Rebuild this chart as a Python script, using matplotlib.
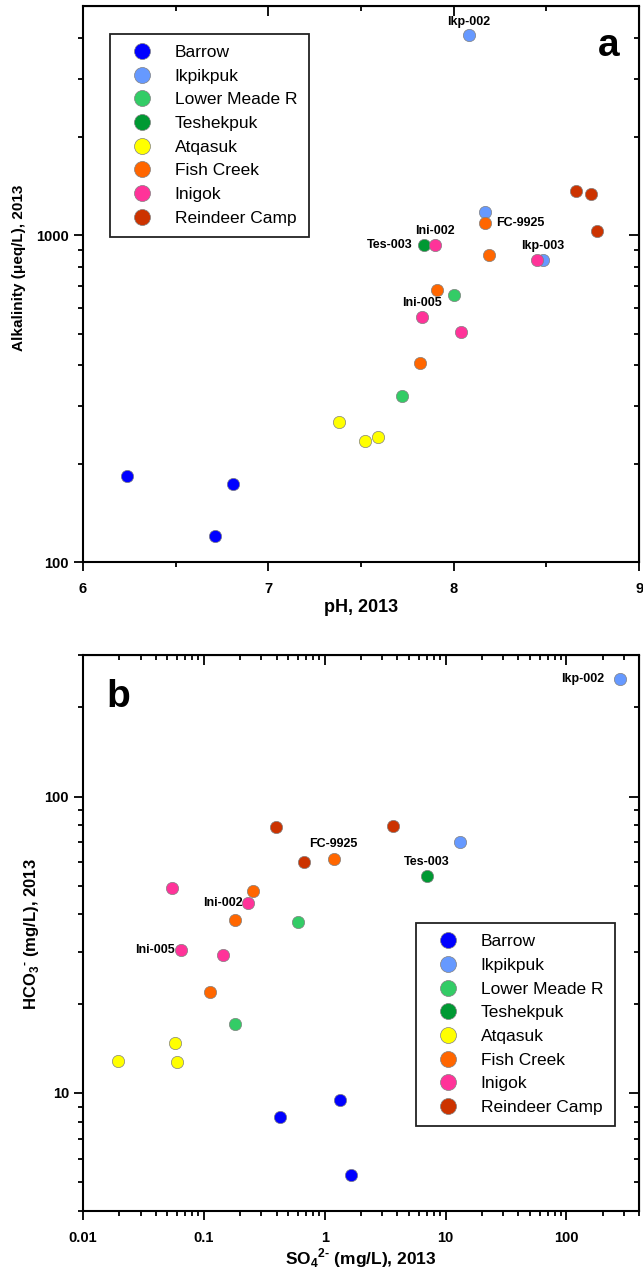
import matplotlib.pyplot as plt
from matplotlib.lines import Line2D

plt.rcParams['font.family'] = ['Liberation Sans', 'DejaVu Sans']
plt.rcParams['mathtext.fontset'] = 'custom'
plt.rcParams['mathtext.rm'] = 'Liberation Sans:bold'
plt.rcParams['mathtext.bf'] = 'Liberation Sans:bold'

# sites and colours
sites = ['Barrow', 'Ikpikpuk', 'Lower Meade R', 'Teshekpuk',
         'Atqasuk', 'Fish Creek', 'Inigok', 'Reindeer Camp']
colors = ['#0000ff', '#6699ff', '#33cc66', '#009933',
          '#ffff00', '#ff6600', '#ff3399', '#cc3300']

# panel a: pH vs alkalinity (ueq/L)
ph = [[6.24, 6.81, 6.71],
      [8.08, 8.17, 8.48],
      [7.72, 8.00],
      [7.84],
      [7.38, 7.52, 7.59],
      [8.17, 8.19, 7.91, 7.82],
      [7.90, 8.45, 7.83, 8.04],
      [8.66, 8.74, 8.77]]
alk = [[184, 174, 120],
       [4075, 1178, 839],
       [322, 658],
       [932],
       [269, 234, 241],
       [1085, 869, 680, 405],
       [932, 839, 561, 507],
       [1365, 1333, 1031]]

# panel b: SO4 vs HCO3 (mg/L)
so4 = [[1.35, 0.428, 1.64],
       [276, 13.3],
       [0.597, 0.182],
       [6.98],
       [0.0579, 0.0194, 0.0602],
       [1.19, 0.255, 0.1795, 0.113],
       [0.0545, 0.232, 0.0652, 0.144],
       [0.392, 3.68, 0.671]]
hco3 = [[9.44, 8.28, 5.28],
        [249, 70.0],
        [37.8, 17.1],
        [53.8],
        [14.7, 12.8, 12.7],
        [61.7, 48.1, 38.4, 21.9],
        [49.0, 43.8, 30.3, 29.1],
        [78.8, 79.8, 60.3]]

# sample labels: (text, x, y, side)
labels_a = [('Ikp-002', 8.08, 4075, 'top'),
            ('FC-9925', 8.17, 1085, 'right'),
            ('Ini-002', 7.90, 932, 'top'),
            ('Tes-003', 7.84, 932, 'left'),
            ('Ikp-003', 8.48, 839, 'top'),
            ('Ini-005', 7.83, 561, 'top')]
labels_b = [('Ikp-002', 276, 249, 'left'),
            ('FC-9925', 1.19, 61.7, 'top'),
            ('Tes-003', 6.98, 53.8, 'top'),
            ('Ini-002', 0.232, 43.8, 'left'),
            ('Ini-005', 0.0652, 30.3, 'left')]
# gap in points between marker centre and label
gaps_a = [5, 8, 6, 8, 6, 6]
gaps_b = [11, 6, 6, 4, 4.5]

fig = plt.figure(figsize=(6.43, 12.72), dpi=100)
ax_a = fig.add_axes([0.129, 0.558, 0.865, 0.437])
ax_b = fig.add_axes([0.129, 0.048, 0.865, 0.437])

tick_font = dict(fontsize=10.5, fontweight='bold')
lab_font = dict(fontsize=9, fontweight='bold')
axis_font = dict(fontsize=13, fontweight='bold')
no_labels = dict(labelbottom=False, labeltop=False,
                 labelleft=False, labelright=False)


def style(ax):
    for s in ax.spines.values():
        s.set_linewidth(1.5)
    ax.tick_params(which='both', direction='out', width=1.3,
                   top=False, right=False)
    ax.tick_params(which='major', length=6.5)
    ax.tick_params(which='minor', length=3.6)
    ax.tick_params(axis='x', which='major', pad=8)
    ax.tick_params(axis='y', which='major', pad=3.5)
    ax2 = ax.secondary_xaxis('top')
    ay2 = ax.secondary_yaxis('right')
    for sec in (ax2, ay2):
        sec.tick_params(which='both', direction='in', width=1.3, **no_labels)
        sec.tick_params(which='major', length=7)
        sec.tick_params(which='minor', length=3.6)
    return ax2, ay2


def add_labels(ax, labels, gaps):
    for (txt, x, y, side), g in zip(labels, gaps):
        if side == 'top':
            off, ha, va = (0, g), 'center', 'bottom'
        elif side == 'left':
            off, ha, va = (-g, 0), 'right', 'center'
        else:
            off, ha, va = (g, 0), 'left', 'center'
        ax.annotate(txt, (x, y), xytext=off, textcoords='offset points',
                    ha=ha, va=va, **lab_font)


# ---- panel a
for i in range(len(sites)):
    ax_a.scatter(ph[i], alk[i], s=78, c=colors[i], edgecolors='#808080',
                 linewidths=0.5, zorder=3)
ax_a.set_yscale('log')
ax_a.set_xlim(6, 9)
ax_a.set_ylim(100, 5000)
ax_a.set_xticks([6, 7, 8, 9])
ax_a.set_xticks([6.5, 7.5, 8.5], minor=True)
ax_a.set_xticklabels(['6', '7', '8', '9'], **tick_font)
ax_a.set_yticks([100, 1000])
ax_a.set_yticklabels(['100', '1000'], **tick_font)
minor_a = [200, 300, 400, 500, 600, 700, 800, 900, 2000, 3000, 4000]
ax_a.set_yticks(minor_a, minor=True)
ax_a.yaxis.set_minor_formatter(plt.NullFormatter())
sx, sy = style(ax_a)
sx.set_xticks([6, 7, 8, 9])
sx.set_xticks([6.5, 7.5, 8.5], minor=True)
sy.set_yticks([100, 1000])
sy.set_yticks(minor_a, minor=True)
sx.tick_params(which='both', **no_labels)
sy.tick_params(which='both', **no_labels)
ax_a.set_xlabel('pH, 2013', va='top', **axis_font)
ax_a.xaxis.set_label_coords(0.5, -0.066)
ax_a.set_ylabel('Alkalinity (μeq/L), 2013', fontsize=11, fontweight='bold',
                va='center')
ax_a.yaxis.set_label_coords(-0.115, 0.529)
add_labels(ax_a, labels_a, gaps_a)
ax_a.text(0.945, 0.928, 'a', transform=ax_a.transAxes, fontsize=28,
          fontweight='bold', ha='center', va='center')

# ---- panel b
for i in range(len(sites)):
    ax_b.scatter(so4[i], hco3[i], s=78, c=colors[i], edgecolors='#808080',
                 linewidths=0.5, zorder=3)
ax_b.set_xscale('log')
ax_b.set_yscale('log')
ax_b.set_xlim(0.01, 400)
ax_b.set_ylim(4, 300)
ax_b.set_xticks([0.01, 0.1, 1, 10, 100])
ax_b.set_xticklabels(['0.01', '0.1', '1', '10', '100'], **tick_font)
ax_b.set_yticks([10, 100])
ax_b.set_yticklabels(['10', '100'], **tick_font)
ax_b.xaxis.set_minor_formatter(plt.NullFormatter())
ax_b.yaxis.set_minor_formatter(plt.NullFormatter())
sx, sy = style(ax_b)
sx.tick_params(which='both', **no_labels)
sy.tick_params(which='both', **no_labels)
ax_b.set_xlabel(r'SO$_4$$^{2\text{-}}$ (mg/L), 2013', va='top',
                fontsize=12.5, fontweight='bold')
ax_b.xaxis.set_label_coords(0.5, -0.064)
ax_b.set_ylabel(r'HCO$_3$$^{\text{-}}$ (mg/L), 2013', fontsize=12,
                fontweight='bold', va='center')
ax_b.yaxis.set_label_coords(-0.092, 0.498)
add_labels(ax_b, labels_b, gaps_b)
ax_b.text(0.063, 0.925, 'b', transform=ax_b.transAxes, fontsize=28,
          fontweight='bold', ha='center', va='center')

# legends
handles = [Line2D([], [], ls='none', marker='o', ms=11.5, mfc=c,
                  mec='#808080', mew=0.5) for c in colors]
for ax, anchor in ((ax_a, (0.0486, 0.951)), (ax_b, (0.599, 0.518))):
    leg = ax.legend(handles, sites, loc='upper left', bbox_to_anchor=anchor,
                    borderaxespad=0, fontsize=12.5, fancybox=False,
                    edgecolor='#222222', framealpha=1, labelspacing=0.49,
                    handletextpad=0.7, borderpad=0.65, handlelength=2.38)
    leg.get_frame().set_linewidth(1.3)
    leg.set_zorder(5)

fig.savefig('out.png', dpi=100)
